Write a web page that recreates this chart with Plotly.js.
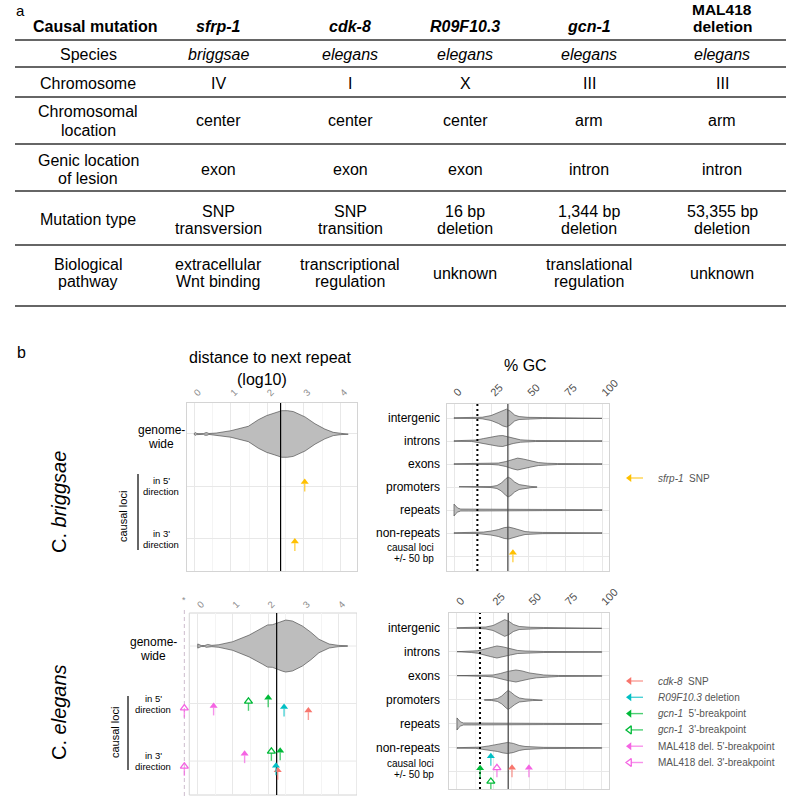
<!DOCTYPE html>
<html><head><meta charset="utf-8">
<script src="https://cdn.plot.ly/plotly-3.0.1.min.js"></script>
<style>html,body{margin:0;padding:0;background:#fff}#chart{width:788px;height:796px}</style>
</head><body><div id="chart"></div>
<script>
const W = 788, H = 796;
const FONT = 'Liberation Sans, Arial, Helvetica, sans-serif';

// ---------------- Panel a: table data ----------------
const causalMutation = ['sfrp-1', 'cdk-8', 'R09F10.3', 'gcn-1', 'MAL418<br>deletion'];
const headerItalic = [true, true, true, true, false];
const rowLabels = ['Species', 'Chromosome', 'Chromosomal<br>location', 'Genic location<br>of lesion', 'Mutation type', 'Biological<br>pathway'];
const species = ['briggsae', 'elegans', 'elegans', 'elegans', 'elegans'];
const chromosome = ['IV', 'I', 'X', 'III', 'III'];
const chromLocation = ['center', 'center', 'center', 'arm', 'arm'];
const genicLocation = ['exon', 'exon', 'exon', 'intron', 'intron'];
const mutationType = ['SNP<br>transversion', 'SNP<br>transition', '16 bp<br>deletion', '1,344 bp<br>deletion', '53,355 bp<br>deletion'];
const pathway = ['extracellular<br>Wnt binding', 'transcriptional<br>regulation', 'unknown', 'translational<br>regulation', 'unknown'];

// ---------------- Panel b: categories & ticks ----------------
const distRows = ['genome-<br>wide', 'in 5\'<br>direction', 'in 3\'<br>direction'];
const gcRows = ['intergenic', 'introns', 'exons', 'promoters', 'repeats', 'non-repeats'];
const causalGcLabel = 'causal loci<br>+/- 50 bp';
const distTicks = [0, 1, 2, 3, 4];
const gcTicks = [0, 25, 50, 75, 100];

// genome-wide distance-to-repeat violin profiles (log10 distance, relative density)
const brigDistX = [0, 0.03, 0.06, 0.1, 0.25, 0.29, 0.32, 0.35, 0.4, 0.6, 1.0, 1.48, 1.75, 1.98, 2.2, 2.39, 2.55, 2.71, 3.03, 3.3, 3.57, 3.8, 4.0, 4.21];
const brigDistD = [0.03, 0.06, 0.03, 0.015, 0.015, 0.055, 0.06, 0.055, 0.02, 0.04, 0.14, 0.33, 0.61, 0.79, 0.9, 1, 1, 0.96, 0.73, 0.44, 0.21, 0.07, 0.03, 0.01];
const elegDistX = [0, 0.1, 0.2, 0.24, 0.28, 0.32, 0.4, 0.6, 0.99, 1.46, 1.84, 1.98, 2.12, 2.41, 2.5, 2.69, 2.97, 3.21, 3.44, 3.73, 4.0, 4.25];
const elegDistD = [0.08, 0.02, 0.02, 0.05, 0.06, 0.05, 0.025, 0.05, 0.165, 0.42, 0.70, 0.81, 0.82, 0.97, 1, 0.96, 0.77, 0.53, 0.26, 0.077, 0.023, 0.012];

// %GC violin profiles per region (order = gcRows)
const brigGcX = [
  [0, 15, 19, 25, 30, 33, 35.5, 38, 41, 44, 47, 50, 60, 100],
  [0, 12, 15, 20, 25, 30, 33, 36, 40, 45, 50, 55, 100],
  [0, 25, 30, 35, 40, 43, 47, 52, 57, 63, 70, 100],
  [3.4, 25, 29, 32, 35, 36.6, 38.5, 41, 44, 48, 52, 56],
  [0, 1, 2.5, 4.5, 10, 20, 30, 40, 50, 60, 100],
  [0, 15, 20, 25, 30, 34, 37, 40, 44, 48, 52, 60, 100]
];
const brigGcD = [
  [0.03, 0.04, 0.08, 0.25, 0.55, 0.8, 0.9, 0.7, 0.3, 0.15, 0.1, 0.07, 0.05, 0.03],
  [0.03, 0.04, 0.1, 0.25, 0.4, 0.53, 0.55, 0.45, 0.25, 0.12, 0.08, 0.05, 0.03],
  [0.03, 0.04, 0.1, 0.25, 0.5, 0.6, 0.5, 0.3, 0.15, 0.08, 0.05, 0.03],
  [0.03, 0.05, 0.15, 0.4, 0.85, 1, 0.85, 0.5, 0.25, 0.12, 0.06, 0.03],
  [0.6, 0.4, 0.2, 0.1, 0.1, 0.12, 0.13, 0.11, 0.08, 0.06, 0.04],
  [0.03, 0.04, 0.1, 0.2, 0.35, 0.55, 0.6, 0.5, 0.3, 0.15, 0.1, 0.06, 0.03]
];
const elegGcX = [
  [0, 15, 20, 25, 29, 33, 36, 39, 43, 47, 51, 60, 100],
  [0, 10, 14, 18, 23, 27.6, 32, 37, 42, 47, 52, 60, 100],
  [0, 20, 25, 30, 35, 40.7, 45, 50, 55, 60, 65, 70, 100],
  [19, 24, 28, 31, 34, 35.4, 37, 40, 43, 47, 52, 59],
  [0, 1, 2.5, 4.5, 10, 20, 30, 40, 50, 60, 100],
  [0, 13, 16, 22, 28, 32, 35, 39, 43, 47, 51, 60, 100]
];
const elegGcD = [
  [0.03, 0.04, 0.1, 0.25, 0.5, 0.83, 0.65, 0.35, 0.15, 0.1, 0.07, 0.05, 0.03],
  [0.03, 0.05, 0.12, 0.25, 0.45, 0.6, 0.5, 0.3, 0.15, 0.1, 0.07, 0.05, 0.03],
  [0.03, 0.04, 0.1, 0.25, 0.45, 0.6, 0.5, 0.3, 0.18, 0.1, 0.07, 0.05, 0.03],
  [0.03, 0.05, 0.15, 0.4, 0.8, 0.95, 0.8, 0.45, 0.2, 0.1, 0.06, 0.03],
  [0.6, 0.4, 0.2, 0.1, 0.1, 0.12, 0.13, 0.11, 0.08, 0.06, 0.04],
  [0.03, 0.04, 0.08, 0.2, 0.35, 0.5, 0.55, 0.45, 0.25, 0.15, 0.1, 0.06, 0.03]
];

// reference lines
const brigDistMedian = 2.36, elegDistMedian = 2.24;
const brigGcThreshold = 15.8, elegGcThreshold = 15.9;
const brigGcMedian = 36.4, elegGcMedian = 35.4;

// causal loci (arrows): x value and jittered row position
const brigLegend = ['<i>sfrp-1</i>\u00a0\u00a0SNP'];
const brigColors = ['#FFC000'];
const brigOpen = [false];
const brigDist5 = [3.02], brigDist5Row = [1.85];
const brigDist3 = [2.75], brigDist3Row = [2.98];
const brigGc = [39.8], brigGcRow = [6.7];

const elegLegend = ['<i>cdk-8</i>\u00a0\u00a0SNP', '<i>R09F10.3</i> deletion', '<i>gcn-1</i>\u00a0\u00a05\'-breakpoint', '<i>gcn-1</i>\u00a0\u00a03\'-breakpoint', 'MAL418 del. 5\'-breakpoint', 'MAL418 del. 3\'-breakpoint'];
const elegColors = ['#F8766D', '#00BFC4', '#00BA38', '#00BA38', '#F564E3', '#F564E3'];
const elegOpen = [false, false, false, true, false, true];
const elegDist5 = [3.14, 2.45, 2.0, 1.44, 0.45, -Infinity], elegDist5Row = [2.06, 2.0, 1.84, 1.9, 1.98, 2.02];
const elegDist3 = [2.27, 2.22, 2.34, 2.09, 1.33, -Infinity], elegDist3Row = [3.1, 3.02, 2.76, 2.77, 2.81, 3.03];
const elegGc = [38.0, 23.4, 16.0, 23.4, 49.7, 27.6], elegGcRow = [6.68, 6.2, 6.7, 7.25, 6.68, 6.68];

// ---------------- helpers ----------------
const annotations = [], shapes = [], traces = [];
function T(text, x, y, o = {}) {
  annotations.push({text, x: x / W, y: 1 - y / H, xref: 'paper', yref: 'paper', showarrow: false,
    xanchor: o.xa || 'center', yanchor: 'middle', textangle: o.angle || 0,
    font: {family: FONT, size: o.size || 16, color: o.color || '#000'}});
}
function TL(text, x, y, lh, o = {}, wrap = s => s) {
  const parts = text.split('<br>');
  parts.forEach((p, i) => T(wrap(p), x, y + (i - (parts.length - 1) / 2) * lh, o));
}
function hline(y, x0, x1, color, width) {
  shapes.push({type: 'line', xref: 'paper', yref: 'paper', x0: x0 / W, x1: x1 / W, y0: 1 - y / H, y1: 1 - y / H, line: {color, width}});
}
function vline(x, y0, y1, color, width, dash) {
  shapes.push({type: 'line', xref: 'paper', yref: 'paper', x0: x / W, x1: x / W, y0: 1 - y0 / H, y1: 1 - y1 / H, line: {color, width, dash: dash || 'solid'}});
}

// ---------------- Panel a: table ----------------
T('a', 20, 10, {size: 15});
const colX = [88, 219, 350, 465, 589, 722];
const headerY = 27;
T('<b>Causal mutation</b>', 95, headerY);
causalMutation.forEach((c, i) => {
  const n = c.split('<br>').length;
  TL(c, colX[i + 1], n > 1 ? 18 : headerY, 17.5, {size: n > 1 ? 15.5 : 16}, s => headerItalic[i] ? '<b><i>' + s + '</i></b>' : '<b>' + s + '</b>');
});
const bodyRows = [species, chromosome, chromLocation, genicLocation, mutationType, pathway];
const rowY = [55, 83, 121, 169, 220, 273];
bodyRows.forEach((row, r) => {
  TL(rowLabels[r], colX[0], rowY[r], 18);
  row.forEach((v, c) => TL(v, colX[c + 1], rowY[r], 17, {}, s => r === 0 ? '<i>' + s + '</i>' : s));
});
[40, 67, 97, 144, 191, 245, 306].forEach(y => hline(y, 15, 786, '#333', 1.5));

// ---------------- Panel b layout ----------------
const P = {
  bd: {x: 'x', y: 'y', xd: [187, 357], xr: [-0.2, 4.45], yd: [403, 571], yr: [3.61, 0.41]},
  bg: {x: 'x2', y: 'y2', xd: [447, 609], xr: [-4.73, 104.73], yd: [404, 571], yr: [7.65, 0.39]},
  ed: {x: 'x3', y: 'y3', xd: [178, 357], xr: [-0.56, 4.52], yd: [613, 795], yr: [3.59, 0.426]},
  eg: {x: 'x4', y: 'y4', xd: [449, 609], xr: [-5.5, 105], yd: [613, 789], yr: [7.71, 0.375]}
};
function ppu(p) { return (p.yd[1] - p.yd[0]) / Math.abs(p.yr[0] - p.yr[1]); }
const infPos = -0.38;       // where log10(0) = -Inf is drawn
const frameLeftEleg = -0.24;

function midpoints(a) { const m = []; for (let i = 0; i < a.length - 1; i++) m.push((a[i] + a[i + 1]) / 2); return m; }

function xaxisDef(p, ticks, isGc, showFrame) {
  return {
    domain: [p.xd[0] / W, p.xd[1] / W], range: p.xr, anchor: p.y, side: 'top',
    tickmode: 'array', tickvals: ticks, ticktext: ticks.map(String), tickangle: -45, ticks: '',
    tickfont: {family: FONT, size: isGc ? 11 : 9.5, color: isGc ? '#4d4d4d' : '#8c8c8c'},
    showgrid: true, gridcolor: '#e8e8e8', gridwidth: 1, zeroline: false,
    showline: showFrame, mirror: showFrame, linecolor: '#d4d4d4', linewidth: 1,
    minor: {tickmode: 'array', tickvals: midpoints(ticks), showgrid: true, gridcolor: '#f4f4f4', gridwidth: 1, ticks: ''},
    fixedrange: true
  };
}
function yaxisDef(p, n, showFrame, grid) {
  const v = []; for (let i = 1; i <= n; i++) v.push(i);
  return {
    domain: [1 - p.yd[1] / H, 1 - p.yd[0] / H], range: p.yr, anchor: p.x,
    tickmode: 'array', tickvals: v, showticklabels: false, ticks: '',
    showgrid: grid, gridcolor: '#e8e8e8', gridwidth: 1, zeroline: false,
    showline: showFrame, mirror: showFrame, linecolor: '#d4d4d4', linewidth: 1, fixedrange: true
  };
}

// ---------------- traces ----------------
function violin(p, xs, ds, center, scale) {
  const up = ds.map(d => center - d * scale);
  const lo = ds.map(d => center + d * scale);
  traces.push({type: 'scatter', mode: 'lines', xaxis: p.x, yaxis: p.y,
    x: [...xs, ...xs.slice().reverse(), xs[0]], y: [...up, ...lo.slice().reverse(), up[0]],
    fill: 'toself', fillcolor: '#bdbdbd', line: {color: '#3a3a3a', width: 0.6}, hoverinfo: 'skip'});
}
function refLine(p, x, color, width, dash) {
  traces.push({type: 'scatter', mode: 'lines', xaxis: p.x, yaxis: p.y, x: [x, x], y: [p.yr[0], p.yr[1]],
    line: {color, width, dash: dash || 'solid'}, hoverinfo: 'skip'});
}
function arrow(p, xv, row, color, open) {
  const u = ppu(p);
  const x = (xv === -Infinity) ? infPos : xv;
  const size = 7;
  const center = row + (size / 2) / u;
  const base = row + (size * 0.75) / u;
  const end = row + 13 / u;
  traces.push({type: 'scatter', mode: 'lines', xaxis: p.x, yaxis: p.y, x: [x, x], y: [base, end],
    line: {color, width: 1.4}, opacity: 0.7, cliponaxis: false, hoverinfo: 'skip'});
  traces.push({type: 'scatter', mode: 'markers', xaxis: p.x, yaxis: p.y, x: [x], y: [center],
    marker: {symbol: open ? 'triangle-up-open' : 'triangle-up', size, color, line: {color, width: open ? 1.3 : 0}},
    cliponaxis: false, hoverinfo: 'skip'});
}

// briggsae distance
violin(P.bd, brigDistX, brigDistD, 1, 0.444);
refLine(P.bd, brigDistMedian, '#000', 1.2);
brigDist5.forEach((v, i) => arrow(P.bd, v, brigDist5Row[i], brigColors[i], brigOpen[i]));
brigDist3.forEach((v, i) => arrow(P.bd, v, brigDist3Row[i], brigColors[i], brigOpen[i]));

// briggsae GC
brigGcX.forEach((xs, i) => violin(P.bg, xs, brigGcD[i], i + 1, 0.43));
refLine(P.bg, brigGcThreshold, '#000', 2, '2px,3px');
refLine(P.bg, brigGcMedian, '#4d4d4d', 1.3);
brigGc.forEach((v, i) => arrow(P.bg, v, brigGcRow[i], brigColors[i], brigOpen[i]));

// elegans distance
violin(P.ed, elegDistX, elegDistD, 1, 0.452);
refLine(P.ed, elegDistMedian, '#000', 1.2);
elegDist5.forEach((v, i) => arrow(P.ed, v, elegDist5Row[i], elegColors[i], elegOpen[i]));
elegDist3.forEach((v, i) => arrow(P.ed, v, elegDist3Row[i], elegColors[i], elegOpen[i]));

// elegans GC
elegGcX.forEach((xs, i) => violin(P.eg, xs, elegGcD[i], i + 1, 0.42));
refLine(P.eg, elegGcThreshold, '#000', 2, '2px,3px');
refLine(P.eg, elegGcMedian, '#4d4d4d', 1.3);
elegGc.forEach((v, i) => arrow(P.eg, v, elegGcRow[i], elegColors[i], elegOpen[i]));

// elegans distance panel frame, row grid lines, -Inf guide
shapes.push({type: 'rect', xref: P.ed.x, yref: 'y3 domain', x0: frameLeftEleg, x1: P.ed.xr[1], y0: 0, y1: 1, line: {color: '#d4d4d4', width: 1}, layer: 'below'});
[1, 2, 3].forEach(r => shapes.push({type: 'line', xref: P.ed.x, yref: P.ed.y, x0: frameLeftEleg, x1: P.ed.xr[1], y0: r, y1: r, line: {color: '#e8e8e8', width: 1}, layer: 'below'}));
shapes.push({type: 'line', xref: P.ed.x, yref: 'paper', x0: infPos, x1: infPos, y0: 0, y1: 1 - 608 / H, line: {color: '#cdbccd', width: 1, dash: '4px,3px'}, layer: 'below'});
annotations.push({text: '*', xref: P.ed.x, yref: 'paper', x: infPos, y: 1 - 607 / H, showarrow: false, font: {family: FONT, size: 9, color: '#8c8c8c'}});

// ---------------- legends (overlay pixel axis) ----------------
function legendItem(y, color, open, label) {
  const tipX = 626;
  traces.push({type: 'scatter', mode: 'lines', xaxis: 'x5', yaxis: 'y5', x: [tipX + 5, 643], y: [y, y],
    line: {color, width: 1.4}, opacity: 0.7, hoverinfo: 'skip'});
  traces.push({type: 'scatter', mode: 'markers', xaxis: 'x5', yaxis: 'y5', x: [tipX + 3.5], y: [y],
    marker: {symbol: open ? 'triangle-left-open' : 'triangle-left', size: 7, color, line: {color, width: open ? 1.3 : 0}}, hoverinfo: 'skip'});
  T(label, 656, y, {xa: 'left', size: 10, color: '#555'});
}
brigLegend.forEach((l, i) => legendItem(478 + i * 16.3, brigColors[i], brigOpen[i], l));
elegLegend.forEach((l, i) => legendItem(681 + i * 16.3, elegColors[i], elegOpen[i], l));

// ---------------- panel b texts ----------------
T('b', 21, 352, {size: 16});
T('distance to next repeat', 270, 357, {size: 16});
T('(log10)', 262, 379, {size: 16});
T('% GC', 525, 365, {size: 16});
T('C. <i>briggsae</i>', 59, 502, {size: 20, angle: -90});
T('C. <i>elegans</i>', 59, 712, {size: 20, angle: -90});
T('causal loci', 123, 517, {size: 11, angle: -90});
T('causal loci', 115, 733, {size: 11, angle: -90});
vline(138, 474, 550, '#333', 1.5);
vline(128, 696, 770, '#333', 1.5);

function rowPx(p, r) { return p.yd[0] + (r - p.yr[1]) * ppu(p); }
const distLabelX = [161, 153];
[P.bd, P.ed].forEach((p, k) => {
  distRows.forEach((lab, i) => {
    const g = i === 0;
    TL(lab, distLabelX[k], rowPx(p, i + 1) + (g ? 3 : 0), g ? 14 : 11, {size: g ? 12 : 9.5});
  });
});
[P.bg, P.eg].forEach(p => {
  gcRows.forEach((lab, i) => T(lab, 442, rowPx(p, i + 1), {xa: 'right', size: 12}));
  TL(causalGcLabel, 436, rowPx(p, 7) - 3, 11, {xa: 'right', size: 10});
});

// ---------------- layout ----------------
const layout = {
  width: W, height: H, margin: {l: 0, r: 0, t: 0, b: 0},
  paper_bgcolor: '#fff', plot_bgcolor: 'rgba(0,0,0,0)', showlegend: false,
  font: {family: FONT},
  xaxis: xaxisDef(P.bd, distTicks, false, true), yaxis: yaxisDef(P.bd, 3, true, true),
  xaxis2: xaxisDef(P.bg, gcTicks, true, true), yaxis2: yaxisDef(P.bg, 7, true, true),
  xaxis3: xaxisDef(P.ed, distTicks, false, false), yaxis3: yaxisDef(P.ed, 3, false, false),
  xaxis4: xaxisDef(P.eg, gcTicks, true, true), yaxis4: yaxisDef(P.eg, 7, true, true),
  xaxis5: {domain: [0, 1], range: [0, W], anchor: 'y5', visible: false, fixedrange: true},
  yaxis5: {domain: [0, 1], range: [H, 0], anchor: 'x5', visible: false, fixedrange: true},
  annotations, shapes
};
Plotly.newPlot('chart', traces, layout, {staticPlot: true, displayModeBar: false});
</script>
</body></html>
